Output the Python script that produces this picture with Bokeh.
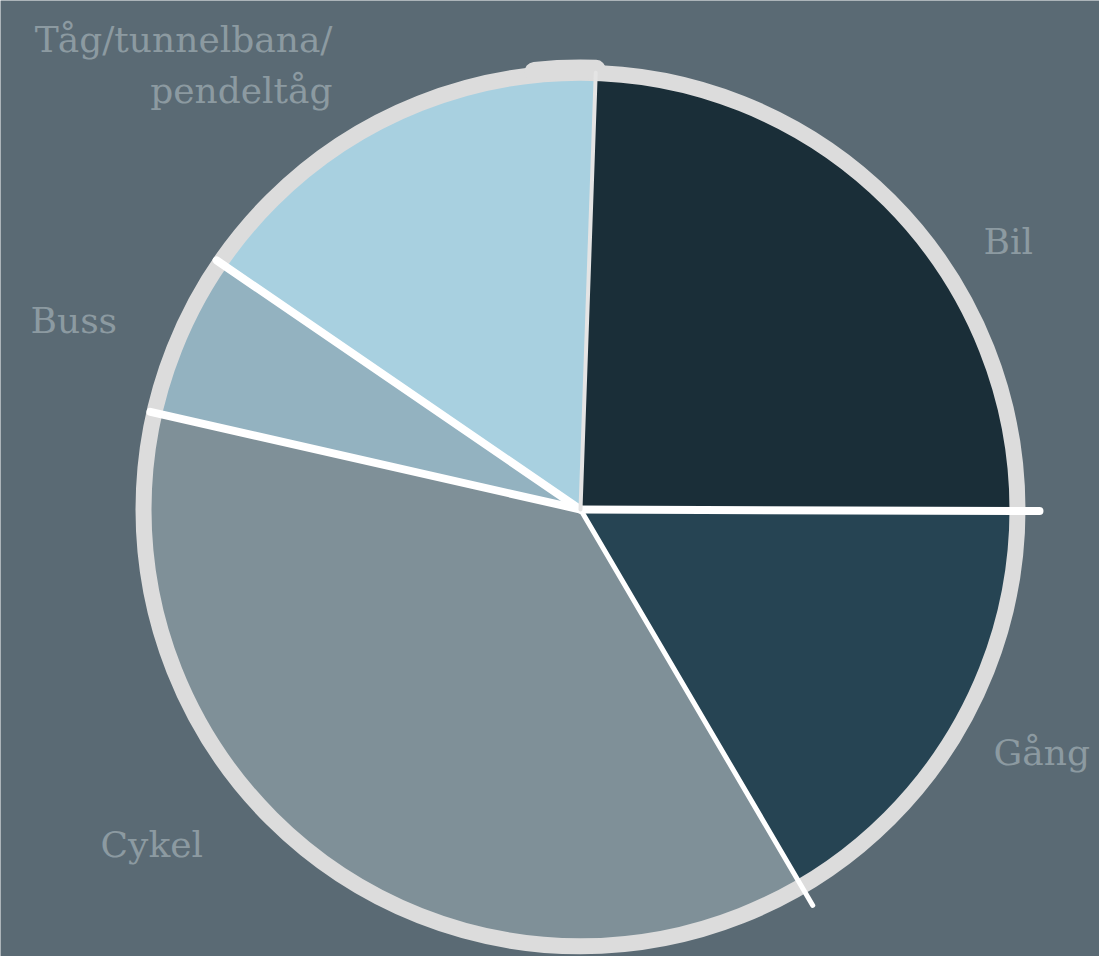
import math
from bokeh.plotting import figure
from bokeh.models import Range1d
from bokeh.core.properties import value
from bokeh.embed import file_html
from bokeh.resources import INLINE

# ---- data ----
categories = ["Bil", "Gång", "Cykel", "Buss", "Tåg/tunnelbana/pendeltåg"]
shares = [24.5, 16.5, 37, 6, 16]
label_lines = [["Bil"], ["Gång"], ["Cykel"], ["Buss"], ["Tåg/tunnelbana/", "pendeltåg"]]

# ---- style ----
BG = "#5a6a74"
slice_colors = ["#1a2e38", "#264453", "#7f9098", "#93b2c0", "#a8d0e0"]
RING = "#dcdcdc"
LABEL = "#8c9aa1"
FONT = "DejaVu Serif"

W, H = 1099, 956
# data coords == image pixel coords (x right, y up from image bottom)
cx, cy = 580, H - 509
R = 437
start_deg = 88.0

# divider drawn at the end (clockwise) of each slice: width, colour, overshoot
div_style = [(8, "#ffffff", 22), (5, "#ffffff", 22), (8, "#ffffff", 4),
             (8, "#ffffff", 4), (4, "#e4e4e4", 0)]

# label anchor positions (image coords: x, baseline y) and alignment
label_pos = [(983, 241, "left"), (993, 752, "left"), (100, 844, "left"),
             (30, 320, "left"), (332, 39, "right")]

p = figure(width=W, height=H, output_backend="svg", toolbar_location=None,
           x_range=Range1d(0, W), y_range=Range1d(0, H),
           min_border=0, background_fill_color=BG, border_fill_color=BG,
           outline_line_color=None)
p.axis.visible = False
p.grid.visible = False

total = float(sum(shares))
angles = []
a = math.radians(start_deg)
for v in shares:
    sweep = 2 * math.pi * v / total
    angles.append((a - sweep, a))
    a -= sweep

# slices
for (s, e), col in zip(angles, slice_colors):
    p.wedge(x=cx, y=cy, radius=R, start_angle=s, end_angle=e,
            fill_color=col, line_color=None)

# ring
p.circle(x=cx, y=cy, radius=R, fill_color=None, line_color=RING, line_width=16)
# heavier hand-drawn stroke at the top of the ring
p.arc(x=cx, y=cy, radius=R + 3, start_angle=math.radians(start_deg + 0),
      end_angle=math.radians(start_deg + 8), line_color=RING, line_width=20,
      line_cap="round")

# dividers
for (s, e), (w, col, over) in zip(angles, div_style):
    ext = R + over
    p.segment(x0=cx, y0=cy, x1=cx + ext * math.cos(s), y1=cy + ext * math.sin(s),
              line_color=col, line_width=w, line_cap="round")

# labels
for lines, (lx, ly, al) in zip(label_lines, label_pos):
    for k, t in enumerate(lines):
        p.text(x=lx, y=H - (ly + 51 * k), text=[t], text_font=value(FONT),
               text_font_size="36px", text_color=LABEL, text_align=al,
               text_baseline="alphabetic")

open("out.html", "w").write(file_html(p, INLINE))
